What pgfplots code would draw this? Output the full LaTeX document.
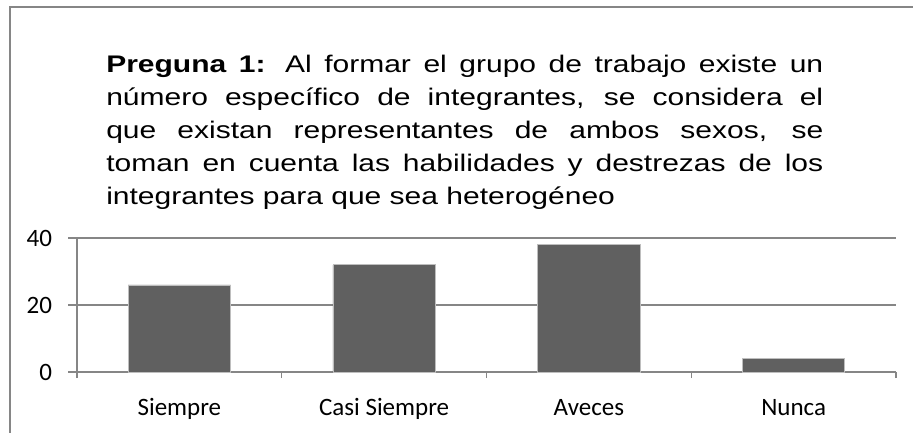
\documentclass[border=0pt]{standalone}
\usepackage{fontspec}
\usepackage{pgfplots}
\pgfplotsset{compat=1.18}
\setmainfont{Carlito}
\newfontfamily\titlefont[FakeStretch=1.25]{Liberation Sans}
\definecolor{bargray}{RGB}{96,96,96}
\definecolor{linegray}{RGB}{134,134,134}
\definecolor{edgegray}{RGB}{190,190,190}

\begin{document}
\begin{tikzpicture}[x=0.75pt,y=0.75pt]
\useasboundingbox (0,0) rectangle (913,432);
% frame of the chart area (right and bottom sides fall outside)
\draw[linegray,line width=1.5pt] (10,-10) -- (10,425) -- (930,425);

\node[anchor=base west,inner sep=0pt,text width=537.75pt,align=justify,
      font=\titlefont\fontsize{18pt}{24.75pt}\selectfont] at (106,359)
  {\textbf{Preguna 1:} Al formar el grupo de trabajo existe un\linebreak
   número específico de integrantes, se considera el\linebreak
   que existan representantes de ambos sexos, se\linebreak
   toman en cuenta las habilidades y destrezas de los\linebreak
   integrantes para que sea heterogéneo};

\begin{axis}[
  at={(57.75pt,45pt)}, anchor=south west,
  scale only axis,
  width=614.25pt, height=100.5pt,
  xmin=-0.5, xmax=3.5,
  ymin=0, ymax=40,
  axis x line*=bottom,
  axis y line*=left,
  axis line style={linegray,line width=0.8pt},
  xtick={0,1,2,3},
  xticklabels={Siempre,Casi Siempre,Aveces,Nunca},
  minor xtick={-0.5,0.5,1.5,2.5,3.5},
  major x tick style={draw=none},
  minor x tick style={linegray,line width=0.8pt},
  minor tick length=4.5pt,
  ytick={0,20,40},
  major tick length=6.5pt,
  y tick style={linegray,line width=0.8pt},
  tick align=outside,
  ymajorgrids,
  grid style={linegray,line width=0.8pt},
  /pgf/number format/assume math mode=true,
  ticklabel style={font=\fontsize{18.75pt}{22pt}\selectfont},
  yticklabel style={inner sep=0pt,anchor=east,xshift=-12pt},
  xticklabel style={inner sep=0pt,anchor=base,yshift=-26.25pt},
  ybar, bar width=0.5,
]
\addplot[fill=bargray,draw=edgegray,line width=0.5pt] coordinates {(0,26) (1,32) (2,38) (3,4)};
\end{axis}
\end{tikzpicture}
\end{document}
